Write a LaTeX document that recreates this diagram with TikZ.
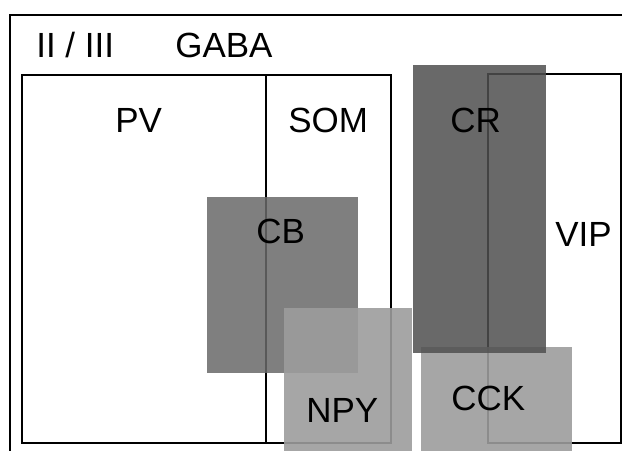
\documentclass[tikz,border=0pt]{standalone}
\usepackage{fontspec}
\setmainfont{Liberation Sans}
\definecolor{cbgray}{gray}{0.41}
\definecolor{crgray}{gray}{0.31}
\definecolor{npygray}{gray}{0.61}
\begin{document}
\begin{tikzpicture}[x=0.02cm, y=-0.02cm,
    outline/.style={draw=black, line width=0.8pt},
    shade/.style={fill opacity=0.85},
    lightshade/.style={fill opacity=0.9},
    tag/.style={font=\fontsize{19.9}{24}\selectfont, anchor=base west, inner sep=0pt}
]
\useasboundingbox (0,0) rectangle (622,450);
\clip (0,0) rectangle (622,450);

% Frame and header
\draw[outline, line width=1pt] (10,470) -- (10,15) -- (640,15);
\node[tag] (layer) at (36,57) {II / III};
\node[tag] (gaba) at (175,57) {GABA};

% Outlined groups
\draw[outline] (22,75) rectangle (391,443);
\draw[outline] (266,75) -- (266,443);
\draw[outline] (488,74) rectangle (621,443);

% Shaded groups
\fill[cbgray, shade] (207,197) rectangle (358,373);
\fill[npygray, lightshade] (284,308) rectangle (412,460);
\fill[npygray, lightshade] (421,347) rectangle (572,460);
\fill[crgray, shade] (413,65) rectangle (546,353);

% Labels
\node[tag] (pv) at (115,132) {PV};
\node[tag] (som) at (288,132) {SOM};
\node[tag] (cr) at (450,132) {CR};
\node[tag] (cb) at (256,243) {CB};
\node[tag] (vip) at (555,246) {VIP};
\node[tag] (npy) at (306,422) {NPY};
\node[tag] (cck) at (451,410) {CCK};

\end{tikzpicture}
\end{document}
